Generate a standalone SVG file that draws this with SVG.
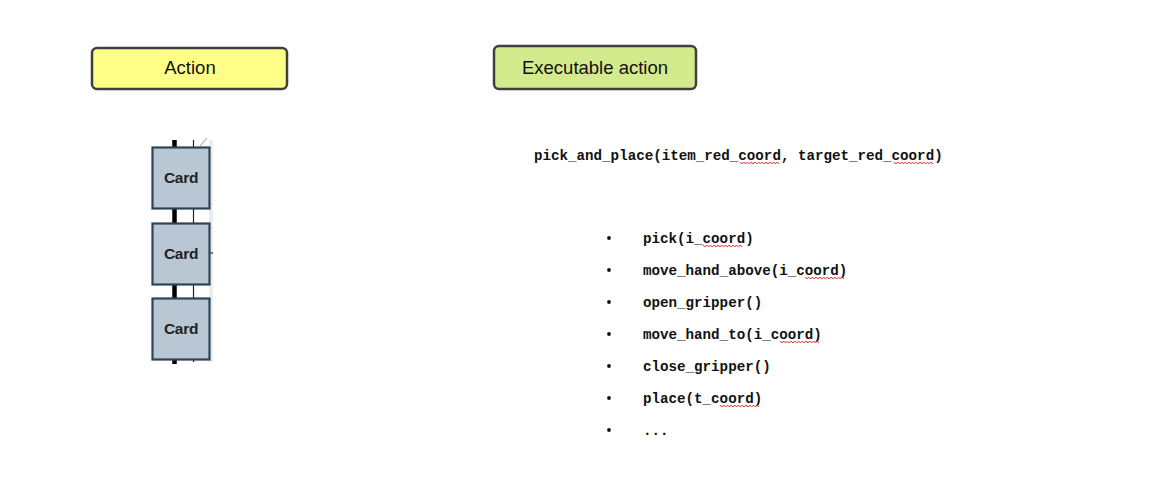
<svg xmlns="http://www.w3.org/2000/svg" width="1155" height="477" viewBox="0 0 1155 477">
<style>
.hdr{stroke:#3f3f3f;stroke-width:2.5}
.hdrt{font-family:"Liberation Sans",Arial,sans-serif;font-size:18.5px;fill:#111;text-anchor:middle}
.card{fill:#b9c7d5;stroke:#2c4358;stroke-width:2.2}
.cardt{font-family:"Liberation Sans",Arial,sans-serif;font-size:15.5px;font-weight:bold;fill:#222;text-anchor:middle;letter-spacing:-0.3px}
.code{font-family:"Liberation Mono","Courier New",monospace;font-size:14.2px;font-weight:bold;fill:#111}
.sq{fill:none;stroke:#e03030;stroke-width:1}
.bul{fill:#111}
</style>
<defs>
<path id="wav" d="M0,0 l2,2 l2,-2 l2,2 l2,-2 l2,2 l2,-2 l2,2 l2,-2 l2,2 l2,-2 l2,2 l2,-2 l2,2 l2,-2 l2,2 l2,-2 l2,2 l2,-2 l2,2 l2,-2 l2,2" class="sq"/>
</defs>
<rect width="1155" height="477" fill="#fff"/>

<g id="action">
<rect x="92" y="48" width="195" height="41" rx="5" fill="#ffff88" class="hdr"/>
<text x="190" y="74" class="hdrt">Action</text>
</g>

<g id="executable-action">
<rect x="494" y="46" width="202" height="43" rx="5" fill="#d3eb8d" class="hdr"/>
<text x="595" y="74" class="hdrt">Executable action</text>
</g>

<g id="cards">
<rect x="209" y="140" width="4" height="222" fill="#ececec"/>
<line x1="174.5" y1="140" x2="174.5" y2="364" stroke="#000" stroke-width="4.5"/>
<line x1="193.5" y1="140" x2="193.5" y2="362" stroke="#222" stroke-width="1.2"/>
<line x1="200" y1="146" x2="207" y2="138" stroke="#999" stroke-width="1"/>
<line x1="209" y1="253" x2="213" y2="253" stroke="#333" stroke-width="1.2"/>
<g id="card1"><rect x="152.5" y="147.5" width="57" height="61" class="card"/><text x="181" y="183" class="cardt">Card</text></g>
<g id="card2"><rect x="152.5" y="223.5" width="57" height="61" class="card"/><text x="181" y="259" class="cardt">Card</text></g>
<g id="card3"><rect x="152.5" y="298.5" width="57" height="61" class="card"/><text x="181" y="334" class="cardt">Card</text></g>
</g>

<g id="code">
<text x="534" y="160" class="code">pick_and_place(item_red_coord, target_red_coord)</text>
<use href="#wav" transform="translate(740,162) scale(0.93,1)"/>
<use href="#wav" transform="translate(894,162) scale(0.93,1)"/>
</g>

<g id="list">
<g class="bul">
<circle cx="609" cy="238" r="1.9"/>
<circle cx="609" cy="270" r="1.9"/>
<circle cx="609" cy="302" r="1.9"/>
<circle cx="609" cy="334" r="1.9"/>
<circle cx="609" cy="366" r="1.9"/>
<circle cx="609" cy="398" r="1.9"/>
<circle cx="609" cy="430" r="1.9"/>
</g>
<text x="643" y="243" class="code">pick(i_coord)</text>
<text x="643" y="275" class="code">move_hand_above(i_coord)</text>
<text x="643" y="307" class="code">open_gripper()</text>
<text x="643" y="339" class="code">move_hand_to(i_coord)</text>
<text x="643" y="371" class="code">close_gripper()</text>
<text x="643" y="403" class="code">place(t_coord)</text>
<text x="643" y="435" class="code">...</text>
<use href="#wav" transform="translate(703,245) scale(0.93,1)"/>
<use href="#wav" transform="translate(805,277) scale(0.93,1)"/>
<use href="#wav" transform="translate(780,341) scale(0.93,1)"/>
<use href="#wav" transform="translate(720,405) scale(0.93,1)"/>
</g>
</svg>
